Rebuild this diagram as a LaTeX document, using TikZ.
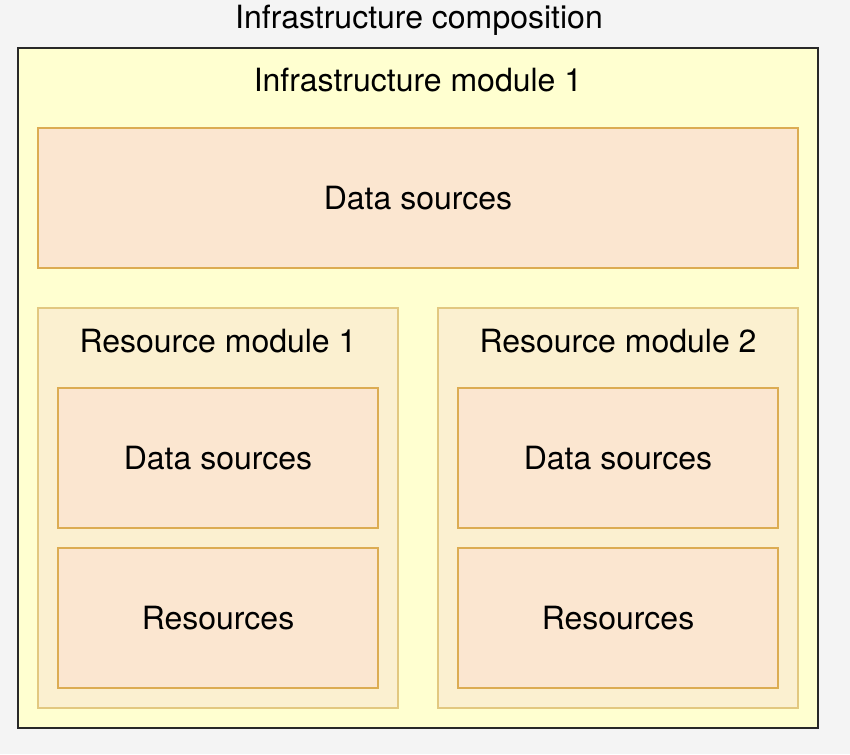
\documentclass[tikz,border=0pt]{standalone}
\usepackage{fontspec}
\setmainfont{TeX Gyre Heros}
\definecolor{pagebg}{RGB}{244,244,244}
\definecolor{infrafill}{RGB}{255,255,208}
\definecolor{infraline}{RGB}{40,40,40}
\definecolor{modfill}{RGB}{251,240,208}
\definecolor{modline}{RGB}{226,200,128}
\definecolor{dsfill}{RGB}{251,230,208}
\definecolor{dsline}{RGB}{220,172,82}

\tikzset{every picture/.style={line width=0.75pt}}
\tikzset{
  txt/.style={inner sep=0.75pt, font=\fontsize{24}{29}\selectfont},
  infrabox/.style={draw=infraline, fill=infrafill, line width=1.5pt, minimum width=600pt, minimum height=510pt},
  modbox/.style={draw=modline, fill=modfill, line width=1.1pt, minimum width=270pt, minimum height=300pt},
  dsbox/.style={draw=dsline, fill=dsfill, line width=1.1pt, txt, minimum height=105pt}
}

\begin{document}
\begin{tikzpicture}[x=0.75pt,y=0.75pt,yscale=-1,xscale=1]
%set diagram to 850 x 754
\fill[pagebg] (0,0) rectangle (850,754);
\useasboundingbox (0,0) rectangle (850,754);

% Text Node
\node (title) [txt] at (419,20) {Infrastructure composition};

%Shape: Rectangle (infrastructure module)
\node (infra) [infrabox] at (418,388) {};
% Text Node
\node (infratitle) [txt] at (418,80) {Infrastructure module 1};

%Shape: Rectangle (top data sources)
\node (ds) [dsbox, minimum width=570pt] at (418,198) {Data sources};

%Shape: Rectangle (resource modules)
\node (rm1) [modbox] at (218,508) {};
\node (rm2) [modbox] at (618,508) {};
% Text Node
\node (rm1title) [txt] at (218,341) {Resource module 1};
% Text Node
\node (rm2title) [txt] at (618,341) {Resource module 2};

%Shape: Rectangle (inner boxes)
\node (rm1ds) [dsbox, minimum width=240pt] at (218,458) {Data sources};
\node (rm1res) [dsbox, minimum width=240pt] at (218,618) {Resources};
\node (rm2ds) [dsbox, minimum width=240pt] at (618,458) {Data sources};
\node (rm2res) [dsbox, minimum width=240pt] at (618,618) {Resources};

\end{tikzpicture}
\end{document}
